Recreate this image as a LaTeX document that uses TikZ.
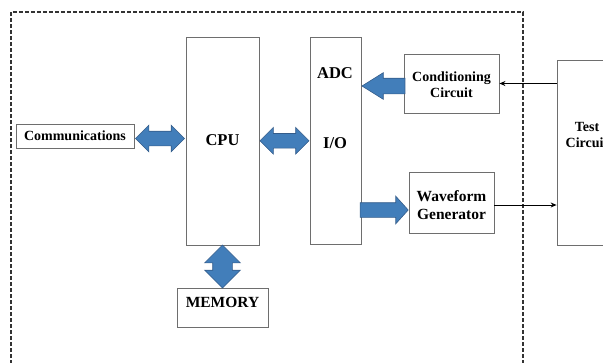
\documentclass[tikz,border=0pt]{standalone}
\usepackage{fontspec}
\setmainfont{Liberation Serif}
\usetikzlibrary{calc,shapes.arrows,arrows.meta}

\definecolor{arrowfill}{RGB}{66,126,186}
\definecolor{arrowedge}{RGB}{52,92,138}
\definecolor{boxline}{RGB}{110,110,110}

\tikzset{
  box/.style={draw=boxline,line width=0.8pt,inner sep=0pt},
  lbl/.style={font=\bfseries\fontsize{14}{16}\selectfont,align=center,inner sep=0pt},
  biglbl/.style={font=\bfseries\fontsize{16.5}{18}\selectfont,inner sep=0pt},
  midlbl/.style={font=\bfseries\fontsize{15.5}{17.5}\selectfont,align=center,inner sep=0pt},
  fat/.style={draw=arrowedge,fill=arrowfill,line width=0.6pt},
  dblarrow/.style={fat,double arrow,inner sep=7pt,double arrow head extend=6pt,double arrow tip angle=90},
  sglarrow/.style={fat,single arrow,inner sep=7pt,single arrow head extend=6pt},
  thin/.style={-{Stealth[length=6pt,width=5pt]},line width=1pt}
}

\begin{document}
\begin{tikzpicture}[x=1pt,y=-1pt]
    \useasboundingbox (0,0) rectangle (603,362);
    \clip (0,0) rectangle (603,362);
    \draw[dashed,dash pattern=on 4pt off 2pt,line width=1.3pt,black!80] (11,370) |- (523,12) -- (523,370);

    \node[box,minimum width=118pt,minimum height=24pt] (comm) at (75,136) {};
    \node[lbl] at (75,136) {Communications};
    \node[box,minimum width=73pt,minimum height=208pt] (cpu) at (222.5,141) {};
    \node[biglbl] (cpulbl) at (222.5,140) {CPU};
    \node[box,minimum width=51pt,minimum height=207pt] (io) at (335.5,140.5) {};
    \node[biglbl] (adc) at (335,73) {ADC};
    \node[biglbl] (iolbl) at (335,143) {I/O};
    \node[box,minimum width=95pt,minimum height=59pt] (cond) at (451.5,83.5) {};
    \node[lbl] (condlbl) at (451.5,85) {Conditioning\\Circuit};
    \node[box,minimum width=85pt,minimum height=61pt] (wave) at (451.5,202.5) {};
    \node[midlbl] (wavelbl) at (451.5,205) {Waveform\\Generator};
    \node[box,minimum width=91pt,minimum height=39pt] (mem) at (222.5,307.5) {};
    \node[midlbl,anchor=base] (memlbl) at (mem.center) {MEMORY};
    \node[box,minimum width=60pt,minimum height=185pt] (test) at (587,152.5) {};
    \node[lbl] (testlbl) at (587,135) {Test\\Circuit};

    \node[dblarrow,minimum height=49pt] (a1) at ($(comm.east)!0.5!(cpu.west)$) {};
    \node[dblarrow,minimum height=49pt] (a2) at ($(cpu.east)!0.5!(io.west)$) {};
    \node[dblarrow,minimum height=43pt,inner sep=9.5pt,double arrow head extend=8pt,rotate=90] (a3) at ($(cpu.south)!0.5!(mem.north)$) {};
    \node[sglarrow,minimum height=43pt,inner sep=7.5pt,single arrow head extend=5.5pt,single arrow tip angle=64,rotate=180,anchor=tip] (a4) at (io.east |- 0,86) {};
    \node[sglarrow,minimum height=48pt,single arrow head extend=6.5pt,single arrow tip angle=96,anchor=tip] (a5) at (wave.west |- 0,210) {};

    \draw[thin] (test.west |- cond.east) -- (cond.east);
    \draw[thin] ($(wave.east)+(0,2.5)$) -- ($(wave.east -| test.west)+(0,2.5)$);
\end{tikzpicture}
\end{document}
